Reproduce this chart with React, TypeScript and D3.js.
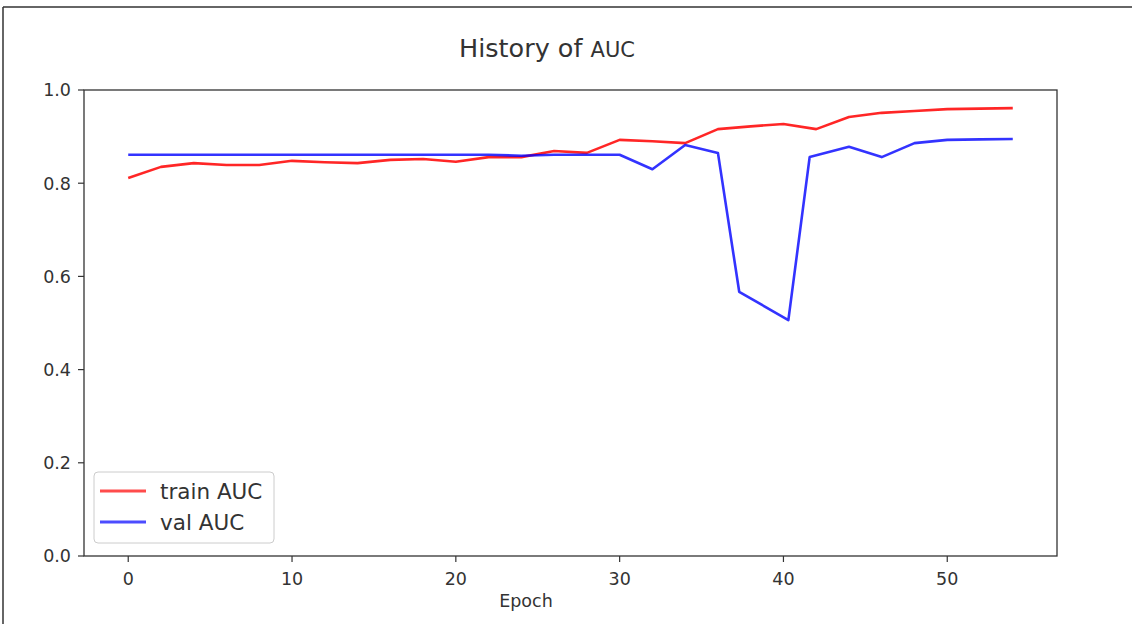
import React from 'react'
import * as d3 from 'd3'

// epochs + AUC values
const trainEpochs = [0, 2, 4, 6, 8, 10, 12, 14, 16, 18, 20, 22, 24, 26, 28, 30, 32, 34, 36, 38, 40, 42, 44, 46, 48, 50, 52, 54]
const trainAuc = [0.811, 0.835, 0.843, 0.839, 0.839, 0.848, 0.845, 0.843, 0.85, 0.852, 0.846, 0.856, 0.856, 0.869, 0.865, 0.893, 0.89, 0.886, 0.916, 0.922, 0.927, 0.916, 0.942, 0.951, 0.955, 0.959, 0.96, 0.961]

const valEpochs = [0, 2, 4, 6, 8, 10, 12, 14, 16, 18, 20, 22, 24, 26, 28, 30, 32, 34, 36, 37.3, 40.3, 41.6, 44, 46, 48, 50, 52, 54]
const valAuc = [0.861, 0.861, 0.861, 0.861, 0.861, 0.861, 0.861, 0.861, 0.861, 0.861, 0.861, 0.861, 0.859, 0.861, 0.861, 0.861, 0.83, 0.882, 0.865, 0.567, 0.506, 0.856, 0.878, 0.856, 0.886, 0.893, 0.894, 0.895]

const xTicks = [0, 10, 20, 30, 40, 50]
const yTicks = [0, 0.2, 0.4, 0.6, 0.8, 1.0]

const W = 1132
const H = 624
const FONT = '"DejaVu Sans", sans-serif'
const INK = '#333'

export default function App() {
  const x = d3.scaleLinear().domain([-2.7, 56.7]).range([84, 1057])
  const y = d3.scaleLinear().domain([0, 1]).range([556, 90])

  const line = d3.line<[number, number]>()
    .x(d => x(d[0]))
    .y(d => y(d[1]))

  const train = line(trainEpochs.map((e, i) => [e, trainAuc[i]]))
  const val = line(valEpochs.map((e, i) => [e, valAuc[i]]))

  const [x0, x1] = x.range()
  const [yb, yt] = y.range()

  return (
    <svg width={W} height={H} style={{ position: 'absolute', left: 0, top: 0, background: '#fff' }}
      fontFamily={FONT}>
      {/* frame of the screenshot */}
      <line x1={3} y1={7} x2={W} y2={7} stroke={INK} strokeWidth={1.5} />
      <line x1={3} y1={7} x2={3} y2={H} stroke={INK} strokeWidth={1.5} />

      {/* title */}
      <text x={547} y={57} textAnchor='middle' fill={INK}>
        <tspan fontSize={25.5}>History of </tspan>
        <tspan fontSize={21}>AUC</tspan>
      </text>

      {/* lines */}
      <g fill='none' strokeWidth={2.6} strokeLinejoin='round'>
        <path d={train ?? ''} stroke='#ff0000' strokeOpacity={0.85} />
        <path d={val ?? ''} stroke='#0000ff' strokeOpacity={0.8} />
      </g>

      {/* axes frame */}
      <rect x={x0} y={yt} width={x1 - x0} height={yb - yt} fill='none' stroke={INK} strokeWidth={1.3} />

      {/* y ticks */}
      {yTicks.map(t => (
        <g key={'y' + t}>
          <line x1={x0 - 6} x2={x0} y1={y(t)} y2={y(t)} stroke={INK} strokeWidth={1.2} />
          <text x={x0 - 13} y={y(t)} dy='0.36em' textAnchor='end' fontSize={17.5} fill={INK}>
            {d3.format('.1f')(t)}
          </text>
        </g>
      ))}

      {/* x ticks */}
      {xTicks.map(t => (
        <g key={'x' + t}>
          <line x1={x(t)} x2={x(t)} y1={yb} y2={yb + 6} stroke={INK} strokeWidth={1.2} />
          <text x={x(t)} y={yb + 29} textAnchor='middle' fontSize={17.5} fill={INK}>{t}</text>
        </g>
      ))}
      <text x={526} y={607} textAnchor='middle' fontSize={17.5} fill={INK}>Epoch</text>

      {/* legend */}
      <g>
        <rect x={94} y={472} width={180} height={71} rx={4} fill='#fff' fillOpacity={0.8} stroke='#ccc' strokeWidth={1} />
        <line x1={100} x2={146} y1={491} y2={491} stroke='#ff0000' strokeOpacity={0.7} strokeWidth={2.8} />
        <text x={160} y={491} dy='0.36em' fontSize={21.5} fill={INK}>train AUC</text>
        <line x1={100} x2={146} y1={522} y2={522} stroke='#0000ff' strokeOpacity={0.7} strokeWidth={2.8} />
        <text x={160} y={522} dy='0.36em' fontSize={21.5} fill={INK}>val AUC</text>
      </g>
    </svg>
  )
}
